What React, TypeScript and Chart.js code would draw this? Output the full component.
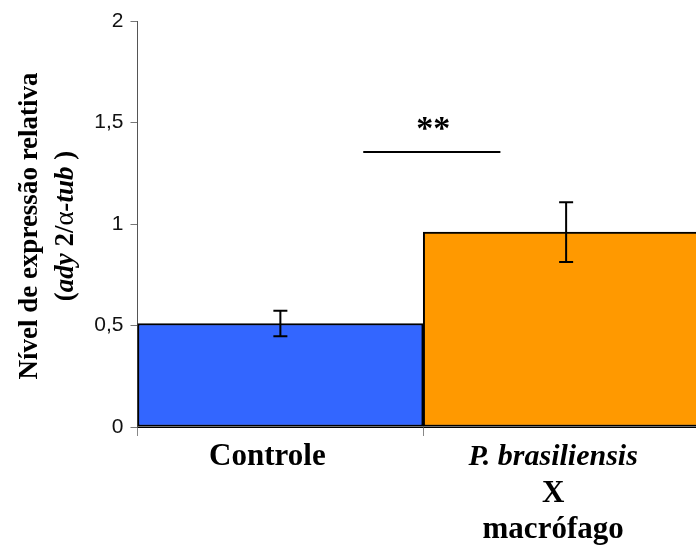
import React, { useEffect, useRef } from "react";
import { Chart, registerables } from "chart.js";

Chart.register(...registerables);

const categories = ["Controle", "P. brasiliensis X macrófago"];
const values = [0.51, 0.96];
const errors = [0.063, 0.147];
const barColors = ["#3366FF", "#FF9900"];
const yTickValues = [0, 0.5, 1, 1.5, 2];
const yTickLabels = ["0", "0,5", "1", "1,5", "2"];

type Seg = { text: string; font: string };
const serifB = "bold 31px 'Liberation Serif', 'Times New Roman', serif";
const serifBI = "italic bold 30px 'Liberation Serif', 'Times New Roman', serif";
const xLabelLines: Seg[][][] = [
  [[{ text: "Controle", font: serifB }]],
  [
    [{ text: "P. brasiliensis", font: serifBI }],
    [{ text: "X", font: serifB }],
    [{ text: "macrófago", font: serifB }],
  ],
];

const tB = "bold 27px 'Liberation Serif', 'Times New Roman', serif";
const tBI = "italic bold 27px 'Liberation Serif', 'Times New Roman', serif";
const tN = "27px 'Liberation Serif', 'Times New Roman', serif";
const yTitleLines: Seg[][] = [
  [{ text: "Nível de expressão relativa", font: tB }],
  [
    { text: "(", font: tB },
    { text: "ady", font: tBI },
    { text: " 2/", font: tB },
    { text: "α", font: tN },
    { text: "-tub", font: tBI },
    { text: " )", font: tB },
  ],
];

const sigLine = { from: 0.29, to: 0.77, y: 1.355 };
const sigStars = { text: "**", x: 0.535, y: 1.497 };

function drawSegs(ctx: CanvasRenderingContext2D, segs: Seg[], cx: number, y: number) {
  let total = 0;
  const widths = segs.map((s) => {
    ctx.font = s.font;
    const w = ctx.measureText(s.text).width;
    total += w;
    return w;
  });
  let x = cx - total / 2;
  segs.forEach((s, i) => {
    ctx.font = s.font;
    ctx.fillText(s.text, x, y);
    x += widths[i];
  });
}

const annotPlugin = {
  id: "annot",
  afterDatasetsDraw(chart: any) {
    const ctx: CanvasRenderingContext2D = chart.ctx;
    const xs = chart.scales.x;
    const ys = chart.scales.y;
    const area = chart.chartArea;
    ctx.save();
    // error bars
    ctx.strokeStyle = "#000";
    ctx.lineWidth = 2;
    values.forEach((v, i) => {
      const x = xs.getPixelForValue(i);
      const top = ys.getPixelForValue(v + errors[i]);
      const bot = ys.getPixelForValue(v - errors[i]);
      ctx.beginPath();
      ctx.moveTo(x, top);
      ctx.lineTo(x, bot);
      ctx.moveTo(x - 7, top);
      ctx.lineTo(x + 7, top);
      ctx.moveTo(x - 7, bot);
      ctx.lineTo(x + 7, bot);
      ctx.stroke();
    });
    // significance line
    const sy = ys.getPixelForValue(sigLine.y);
    ctx.beginPath();
    ctx.moveTo(xs.getPixelForValue(sigLine.from), sy);
    ctx.lineTo(xs.getPixelForValue(sigLine.to), sy);
    ctx.stroke();
    ctx.fillStyle = "#000";
    ctx.font = "bold 34px 'Liberation Serif', 'Times New Roman', serif";
    ctx.textAlign = "center";
    ctx.textBaseline = "alphabetic";
    ctx.fillText(sigStars.text, xs.getPixelForValue(sigStars.x), ys.getPixelForValue(sigStars.y) + 16);

    // x labels
    ctx.textAlign = "left";
    ctx.textBaseline = "alphabetic";
    const baselines = [38, 75, 111];
    xLabelLines.forEach((lines, i) => {
      const cx = xs.getPixelForValue(i) - 13;
      lines.forEach((segs, j) => {
        drawSegs(ctx, segs, cx, area.bottom + baselines[j]);
      });
    });

    // y title
    const cy = (area.top + area.bottom) / 2;
    const lineX = [30, 66];
    yTitleLines.forEach((segs, j) => {
      ctx.save();
      ctx.translate(lineX[j], cy + 2);
      ctx.rotate(-Math.PI / 2);
      ctx.textBaseline = "middle";
      drawSegs(ctx, segs, 0, 0);
      ctx.restore();
    });
    ctx.restore();
  },
};

export default function App() {
  const ref = useRef<HTMLCanvasElement | null>(null);
  useEffect(() => {
    if (!ref.current) return;
    const chart = new Chart(ref.current, {
      type: "bar",
      data: {
        labels: categories,
        datasets: [
          {
            data: values,
            backgroundColor: barColors,
            borderColor: "#000",
            borderWidth: 2,
            borderSkipped: false,
            barPercentage: 1,
            categoryPercentage: 1,
          },
        ],
      },
      options: {
        responsive: false,
        devicePixelRatio: 1,
        animation: false,
        layout: { padding: { top: 21, right: 11, left: 0, bottom: 0 } },
        plugins: { legend: { display: false }, tooltip: { enabled: false } },
        scales: {
          x: {
            offset: true,
            grid: { offset: true, drawOnChartArea: false, drawTicks: true, tickLength: 9, color: "#888" },
            border: { display: true, color: "#000", width: 1 },
            ticks: { display: false },
            afterFit: (s: any) => {
              s.height = 119;
            },
          },
          y: {
            min: 0,
            max: 2,
            afterBuildTicks: (s: any) => {
              s.ticks = yTickValues.map((v) => ({ value: v }));
            },
            grid: { drawOnChartArea: false, drawTicks: true, tickLength: 7, color: "#777" },
            border: { display: true, color: "#555", width: 1 },
            ticks: {
              padding: 7,
              color: "#111",
              font: { family: "'Liberation Sans', Arial, sans-serif", size: 21 },
              callback: (v: any) => {
                const i = yTickValues.indexOf(Number(v));
                return i >= 0 ? yTickLabels[i] : "";
              },
            },
            afterFit: (s: any) => {
              s.width = 137.5;
            },
          },
        },
      },
      plugins: [annotPlugin],
    });
    return () => chart.destroy();
  }, []);
  return (
    <div style={{ position: "fixed", left: 0, top: 0, width: 696, height: 546, overflow: "hidden", background: "#fff" }}>
      <canvas ref={ref} width={720} height={546} style={{ display: "block" }} />
    </div>
  );
}
